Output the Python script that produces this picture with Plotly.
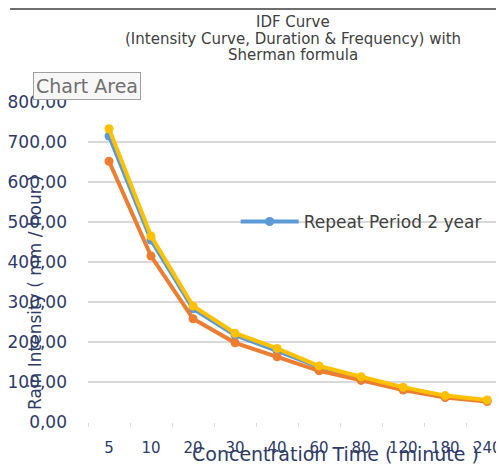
import plotly.graph_objects as go

categories = ["5", "10", "20", "30", "40", "60", "80", "120", "180", "240"]
series_names = ["Repeat Period 2 year", "Repeat Period 5 year", "Repeat Period 10 year"]
s_blue = [715, 455, 283, 217, 178, 137, 110, 85, 64, 54]
s_orange = [652, 415, 258, 198, 163, 128, 104, 80, 61, 51]
s_yellow = [733, 465, 290, 222, 184, 140, 113, 87, 66, 55]
y_ticks = [0, 100, 200, 300, 400, 500, 600, 700, 800]
y_tick_text = ["0,00", "100,00", "200,00", "300,00", "400,00", "500,00", "600,00", "700,00", "800,00"]

colors = ["#5B9BD5", "#ED7D31", "#FFC000"]
navy = "#2E3A66"
FONT = "DejaVu Sans, Verdana, sans-serif"

fig = go.Figure()
for name, vals, col, show in zip(series_names, [s_blue, s_orange, s_yellow], colors, [True, False, False]):
    fig.add_trace(go.Scatter(
        x=categories, y=vals, name=name, mode="lines+markers",
        line=dict(color=col, width=4), marker=dict(color=col, size=9),
        showlegend=show,
    ))

fig.update_layout(
    width=496, height=462,
    margin=dict(l=80, r=0, t=94, b=48),
    paper_bgcolor="white", plot_bgcolor="white",
    font=dict(family=FONT, color="#404040"),
    showlegend=True,
    legend=dict(x=0.355, y=0.625, xanchor="left", yanchor="middle",
                bgcolor="rgba(0,0,0,0)", font=dict(size=17, color="#404040"),
                itemwidth=58),
    xaxis=dict(type="category", range=[-0.5, 9.4], showgrid=False,
               tickfont=dict(size=15, color=navy), ticks="outside", ticklen=4,
               tickson="boundaries", tickcolor="#D9D9D9", ticklabelstandoff=15,
               showline=False, zeroline=False),
    yaxis=dict(range=[0, 800], tickvals=y_ticks, ticktext=y_tick_text,
               tickfont=dict(size=17, color=navy), gridcolor="#D9D9D9",
               gridwidth=1.5, zeroline=False, showline=False, ticklabelstandoff=20),
)

def px_x(p):
    return (p - 88) / 416

def px_y(p):
    return (422 - p) / 320

title_lines = ["IDF Curve", "(Intensity Curve, Duration & Frequency) with", "Sherman formula"]
for txt, yy in zip(title_lines, [22, 39, 55]):
    fig.add_annotation(xref="paper", yref="paper", x=px_x(293), y=px_y(yy),
                       xanchor="center", yanchor="middle", text=txt, showarrow=False,
                       font=dict(size=15, color="#404040"))
fig.add_annotation(xref="paper", yref="paper", x=px_x(33), y=px_y(86),
                   xanchor="left", yanchor="middle", text="Chart Area", showarrow=False,
                   font=dict(size=19, color="#707070"), bgcolor="#F7F7F7",
                   bordercolor="#A0A0A0", borderwidth=1, borderpad=2)
fig.add_annotation(xref="paper", yref="paper", x=px_x(35), y=px_y(293),
                   xanchor="center", yanchor="middle", text="Rain Intensity ( mm / hour )",
                   textangle=-90, showarrow=False, font=dict(size=17, color=navy))
fig.add_annotation(xref="paper", yref="paper", x=px_x(335), y=px_y(454),
                   xanchor="center", yanchor="middle", text="Concentration Time ( minute )",
                   showarrow=False, font=dict(size=19, color=navy))
fig.add_shape(type="line", xref="paper", yref="paper", x0=px_x(10), x1=1.0,
              y0=px_y(9), y1=px_y(9), line=dict(color="#6E6E6E", width=2))

fig.write_html("out.html")
